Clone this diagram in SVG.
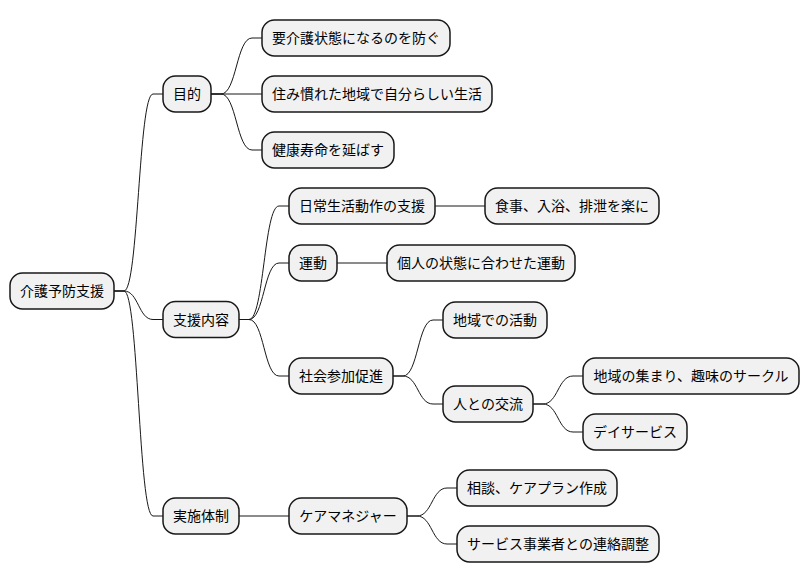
<svg xmlns="http://www.w3.org/2000/svg" width="810" height="583" viewBox="0 0 810 583">
<style>
.n rect{fill:#F1F1F1;stroke:#181818;stroke-width:1.5}
.n text{font-family:"Noto Sans CJK JP","Noto Sans",sans-serif;font-size:14px;fill:#000;text-anchor:middle}
#edges path{fill:none;stroke:#181818;stroke-width:1}
</style>
<rect width="810" height="583" fill="#FFFFFF"/>
<g id="edges">
<path d="M114 291 H124 C138.5 291 138.5 94 153 94 H163"/>
<path d="M114 291 H124 C138.5 291 138.5 319.5 153 319.5 H163"/>
<path d="M114 291 H124 C138.5 291 138.5 516 153 516 H163"/>
<path d="M211 94 H221 C236.5 94 236.5 38 252 38 H262"/>
<path d="M211 94 H262"/>
<path d="M211 94 H221 C236.5 94 236.5 150 252 150 H262"/>
<path d="M239 319.5 H249 C264 319.5 264 206 279 206 H289"/>
<path d="M239 319.5 H249 C264 319.5 264 263 279 263 H289"/>
<path d="M239 319.5 H249 C264 319.5 264 376 279 376 H289"/>
<path d="M435 206 H485"/>
<path d="M337 263 H387"/>
<path d="M393 376 H403 C418 376 418 320 433 320 H443"/>
<path d="M393 376 H403 C418 376 418 404 433 404 H443"/>
<path d="M533 404 H543 C558 404 558 376 573 376 H583"/>
<path d="M533 404 H543 C558 404 558 432 573 432 H583"/>
<path d="M239 516 H289"/>
<path d="M407 516 H417 C432 516 432 488 447 488 H457"/>
<path d="M407 516 H417 C432 516 432 544 447 544 H457"/>
</g>
<g id="root" class="n"><rect x="10" y="273" width="104" height="36" rx="12.5"/><text x="62" y="296">介護予防支援</text></g>
<g id="mokuteki" class="n"><rect x="163" y="76" width="48" height="36" rx="12.5"/><text x="187" y="99">目的</text></g>
<g id="mokuteki1" class="n"><rect x="262" y="20" width="188" height="36" rx="12.5"/><text x="356" y="43">要介護状態になるのを防ぐ</text></g>
<g id="mokuteki2" class="n"><rect x="262" y="76" width="230" height="36" rx="12.5"/><text x="377" y="99">住み慣れた地域で自分らしい生活</text></g>
<g id="mokuteki3" class="n"><rect x="262" y="132" width="132" height="36" rx="12.5"/><text x="328" y="155">健康寿命を延ばす</text></g>
<g id="naiyou" class="n"><rect x="163" y="301.5" width="76" height="36" rx="12.5"/><text x="201" y="324.5">支援内容</text></g>
<g id="adl" class="n"><rect x="289" y="188" width="146" height="36" rx="12.5"/><text x="362" y="211">日常生活動作の支援</text></g>
<g id="adl1" class="n"><rect x="485" y="188" width="174" height="36" rx="12.5"/><text x="572" y="211">食事、入浴、排泄を楽に</text></g>
<g id="undou" class="n"><rect x="289" y="245" width="48" height="36" rx="12.5"/><text x="313" y="268">運動</text></g>
<g id="undou1" class="n"><rect x="387" y="245" width="188" height="36" rx="12.5"/><text x="481" y="268">個人の状態に合わせた運動</text></g>
<g id="shakai" class="n"><rect x="289" y="358" width="104" height="36" rx="12.5"/><text x="341" y="381">社会参加促進</text></g>
<g id="chiiki" class="n"><rect x="443" y="302" width="104" height="36" rx="12.5"/><text x="495" y="325">地域での活動</text></g>
<g id="kouryu" class="n"><rect x="443" y="386" width="90" height="36" rx="12.5"/><text x="488" y="409">人との交流</text></g>
<g id="kouryu1" class="n"><rect x="583" y="358" width="216" height="36" rx="12.5"/><text x="691" y="381">地域の集まり、趣味のサークル</text></g>
<g id="kouryu2" class="n"><rect x="583" y="414" width="104" height="36" rx="12.5"/><text x="635" y="437">デイサービス</text></g>
<g id="taisei" class="n"><rect x="163" y="498" width="76" height="36" rx="12.5"/><text x="201" y="521">実施体制</text></g>
<g id="caremanager" class="n"><rect x="289" y="498" width="118" height="36" rx="12.5"/><text x="348" y="521">ケアマネジャー</text></g>
<g id="cm1" class="n"><rect x="457" y="470" width="160" height="36" rx="12.5"/><text x="537" y="493">相談、ケアプラン作成</text></g>
<g id="cm2" class="n"><rect x="457" y="526" width="202" height="36" rx="12.5"/><text x="558" y="549">サービス事業者との連絡調整</text></g>
</svg>
